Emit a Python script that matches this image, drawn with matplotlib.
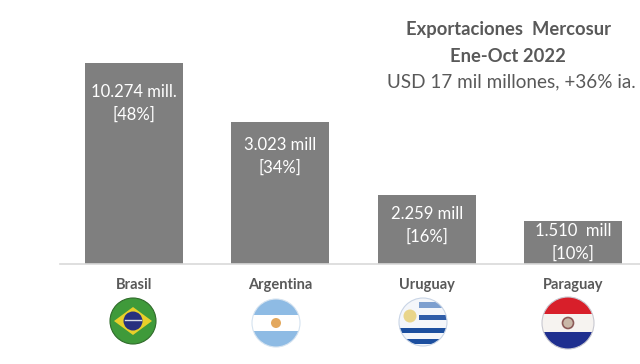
import matplotlib
matplotlib.use("Agg")
import matplotlib.pyplot as plt
from matplotlib.patches import Circle, Rectangle, Polygon

plt.rcParams['font.family'] = ['Lato', 'DejaVu Sans']

paises = ["Brasil", "Argentina", "Uruguay", "Paraguay"]
# bar heights (they are not proportional to the labels)
alturas = [201, 142, 69, 43]
montos = ["10.274 mill.", "3.023 mill", "2.259 mill", "1.510  mill"]
porcentajes = ["[48%]", "[34%]", "[16%]", "[10%]"]

GRIS = "#7f7f7f"
TEXTO = "#595959"

fig = plt.figure(figsize=(6.4, 3.64), dpi=100)
# one unit = one pixel, y=0 is the baseline of the bars
ax = fig.add_axes([0, 0, 1, 1])
ax.set_xlim(0, 640)
ax.set_ylim(-100, 264)
ax.axis("off")

centros = [134 + 146.4 * i for i in range(len(paises))]

ax.bar(centros, alturas, width=98, color=GRIS, zorder=2)
ax.plot([60, 640], [0, 0], color="#d9d9d9", lw=1.2, zorder=3)

# the labels sit closer to the top of the bar as the bars get shorter
bajada = [29, 23, 19, 10]

for x, h, b, m, p, nombre in zip(centros, alturas, bajada, montos, porcentajes, paises):
    ax.text(x, h - b, m, color="white", fontsize=12, ha="center", va="center")
    ax.text(x, h - b - 23, p, color="white", fontsize=12, ha="center", va="center")
    ax.text(x, -21, nombre, color=TEXTO, fontsize=10.5, fontweight="bold", ha="center", va="center")

ax.text(508, 234, "Exportaciones  Mercosur", color=TEXTO, fontsize=13.2, fontweight="bold", ha="center", va="center")
ax.text(508, 208, "Ene-Oct 2022", color=TEXTO, fontsize=13.2, fontweight="bold", ha="center", va="center")
ax.text(511, 182, "USD 17 mil millones, +36% ia.", color=TEXTO, fontsize=13.6, ha="center", va="center")


def flag_circle(cx, cy, r, edge="#cfd8e0"):
    c = Circle((cx, cy), r, fc="none", ec=edge, lw=0.8, zorder=6)
    ax.add_patch(c)
    clip = Circle((cx, cy), r, transform=ax.transData)
    return clip


def franja(cx, cy, r, y0, y1, color, clip, x0=None, x1=None):
    x0 = cx - r if x0 is None else x0
    x1 = cx + r if x1 is None else x1
    p = Rectangle((x0, cy + y0), x1 - x0, y1 - y0, fc=color, ec="none", zorder=4)
    ax.add_patch(p)
    p.set_clip_path(clip)


# Brasil
cx, cy, r = 133, -57, 23
clip = flag_circle(cx, cy, r, "#2f6b2a")
franja(cx, cy, r, -r, r, "#3f9a3a", clip)
rombo = Polygon([(cx - 19, cy), (cx, cy + 14), (cx + 19, cy), (cx, cy - 14)], fc="#e8cf2a", ec="none", zorder=5)
ax.add_patch(rombo)
rombo.set_clip_path(clip)
ax.add_patch(Circle((cx, cy), 9.5, fc="#27307f", ec="none", zorder=5.5))
ax.plot([cx - 8, cx + 8], [cy + 1, cy + 1], color="#d8dce8", lw=1, zorder=5.6)

# Argentina
cx, cy, r = 276, -59, 24
clip = flag_circle(cx, cy, r, "#d5e3f0")
franja(cx, cy, r, 8, r, "#8ebbe4", clip)
franja(cx, cy, r, -8, 8, "white", clip)
franja(cx, cy, r, -r, -8, "#8ebbe4", clip)
ax.add_patch(Circle((cx, cy), 5, fc="#e3a85e", ec="none", zorder=5))

# Uruguay
cx, cy, r = 423, -58, 24
clip = flag_circle(cx, cy, r, "#c9d5e6")
franja(cx, cy, r, -r, r, "#f4f6fa", clip)
franja(cx, cy, r, 14, 20, "#7d9fcf", clip, x0=cx - 4)
franja(cx, cy, r, 2, 7, "#2f5da8", clip, x0=cx - 4)
franja(cx, cy, r, -11, -6, "#1c4f9f", clip)
franja(cx, cy, r, -22, -17, "#1c4f9f", clip)
ax.add_patch(Circle((cx - 13, cy + 6), 6.5, fc="#e9d58a", ec="none", zorder=5))

# Paraguay
cx, cy, r = 568, -59, 26
clip = flag_circle(cx, cy, r, "#c8c8d0")
franja(cx, cy, r, 9, r, "#d81f2a", clip)
franja(cx, cy, r, -9, 9, "#f6f3f0", clip)
franja(cx, cy, r, -r, -9, "#1f2f8f", clip)
ax.add_patch(Circle((cx, cy), 5.5, fc="#c9b8a8", ec="#8c5a58", lw=1.2, zorder=5))

fig.savefig("out.png", dpi=100)
